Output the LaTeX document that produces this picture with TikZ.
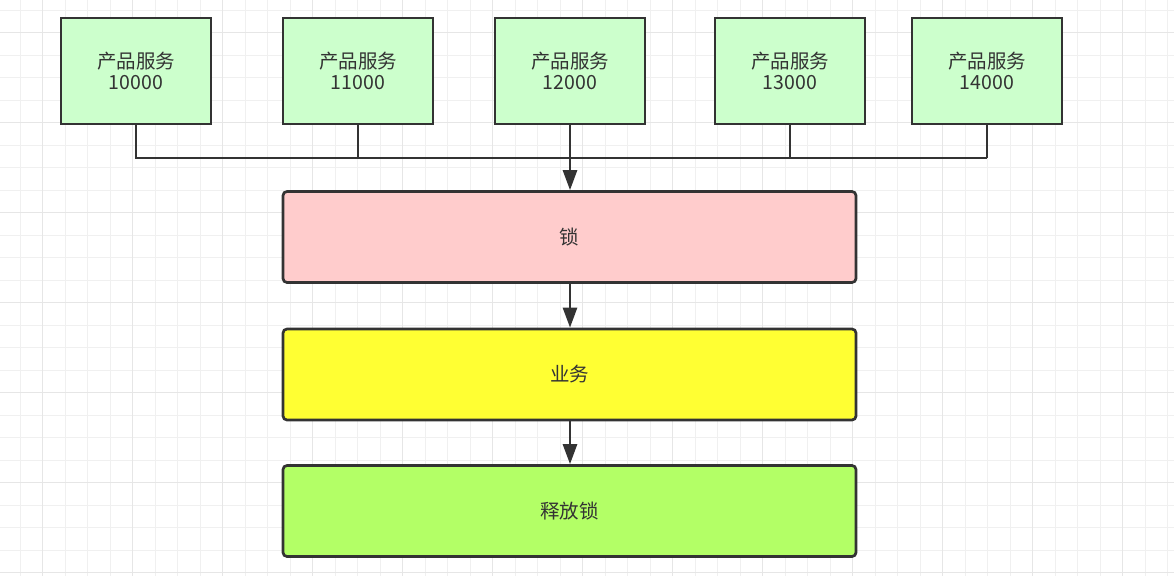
\documentclass[tikz,border=0pt]{standalone}
\usepackage{fontspec}
\setmainfont{Noto Sans CJK SC}
\usetikzlibrary{arrows.meta}
\definecolor{gridminor}{HTML}{F0F0F0}
\definecolor{gridmajor}{HTML}{E6E6E6}
\definecolor{strokec}{HTML}{333333}
\definecolor{greenf}{HTML}{CCFFCC}
\definecolor{pinkf}{HTML}{FFCCCC}
\definecolor{yellowf}{HTML}{FFFF33}
\definecolor{limef}{HTML}{B3FF66}
\tikzset{
  svcbox/.style={draw=strokec, line width=2.7pt, fill=greenf, minimum width=150pt, minimum height=106pt, inner sep=0pt, align=center, font=\fontsize{19.5}{22.5}\selectfont, text=strokec},
  wide/.style={draw=strokec, line width=2.7pt, rounded corners=4pt, minimum width=573pt, minimum height=91pt, inner sep=0pt, font=\fontsize{19.5}{22.5}\selectfont, text=strokec},
  conn/.style={draw=strokec, line width=2.7pt},
  arr/.style={conn, -{Triangle[length=20pt,width=14pt]}}
}
\begin{document}
\begin{tikzpicture}[x=1pt,y=-1pt]
\useasboundingbox (0,0) rectangle (1174,576);
\fill[white] (0,0) rectangle (1174,576);
% grid
\foreach \k in {0,...,51} \draw[gridminor, line width=1.2pt] ({20.2+22.5*\k},0) -- ({20.2+22.5*\k},576);
\foreach \k in {0,...,25} \draw[gridminor, line width=1.2pt] (0,{10.2+22.5*\k}) -- (1174,{10.2+22.5*\k});
\foreach \k in {0,...,12} \draw[gridmajor, line width=1.2pt] ({42.7+90*\k},0) -- ({42.7+90*\k},576);
\foreach \k in {0,...,6} \draw[gridmajor, line width=1.2pt] (0,{32.7+90*\k}) -- (1174,{32.7+90*\k});
% service boxes
\node[svcbox] (s1) at (136,71) {\raisebox{-1pt}{产品服务}\\10000};
\node[svcbox] (s2) at (358,71) {\raisebox{-1pt}{产品服务}\\11000};
\node[svcbox] (s3) at (570,71) {\raisebox{-1pt}{产品服务}\\12000};
\node[svcbox] (s4) at (790,71) {\raisebox{-1pt}{产品服务}\\13000};
\node[svcbox] (s5) at (987,71) {\raisebox{-1pt}{产品服务}\\14000};
% main boxes
\node[wide, fill=pinkf] (lock) at (569.5,237) {\raisebox{-1pt}{锁}};
\node[wide, fill=yellowf] (biz) at (569.5,374.5) {\raisebox{-1pt}{业务}};
\node[wide, fill=limef] (rel) at (569.5,511) {\raisebox{-1pt}{释放锁}};
% bus
\coordinate (busL) at (136,158);
\coordinate (busR) at (987,158);
\draw[conn] (s1.south) |- (busR);
\draw[conn] (s5.south) -- (busR);
\draw[conn] (s2.south) -- (s2.south |- busL);
\draw[conn] (s4.south) -- (s4.south |- busL);
\draw[arr] (s3.south) -- (s3.south |- lock.north);
\draw[arr] (lock.south -| s3.south) -- (biz.north -| s3.south);
\draw[arr] (biz.south -| s3.south) -- (rel.north -| s3.south);
\end{tikzpicture}
\end{document}
